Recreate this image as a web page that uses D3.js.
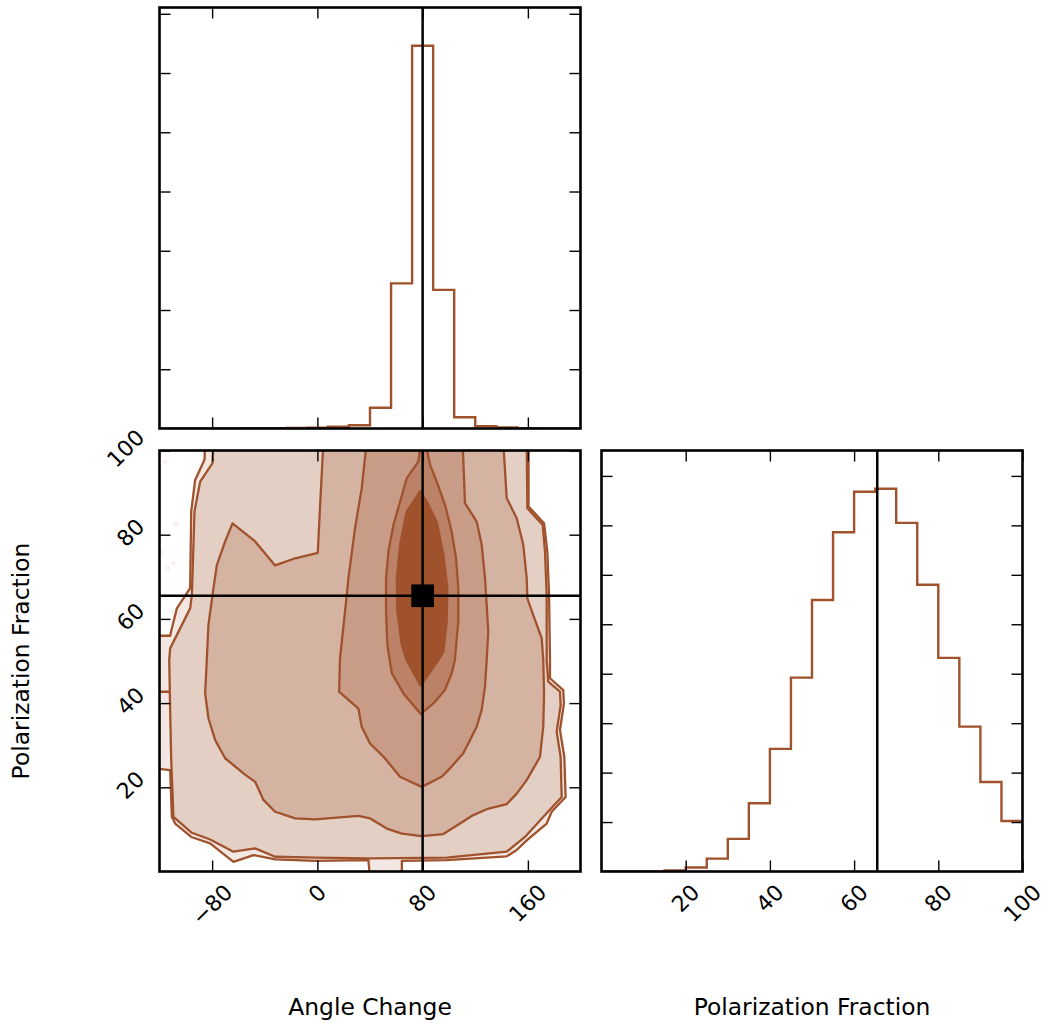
<!DOCTYPE html>
<html>
<head>
<meta charset="utf-8">
<script src="https://cdn.jsdelivr.net/npm/d3@7"></script>
<style>
  body { margin: 0; background: #fff; }
  svg { display: block; font-family: "DejaVu Sans", sans-serif; }
</style>
</head>
<body>
<div id="chart"></div>
<script>
// Angle Change histogram: bin edges and counts
const angleEdges = [-120, -104, -88, -72, -56, -40, -24, -8, 8, 24, 40, 56, 72, 88, 104, 120, 136, 152, 168, 184, 200];
const angleCounts = [0, 0, 0, 0, 3, 6, 10, 15, 30, 55, 350, 2450, 6460, 2340, 190, 40, 18, 6, 2, 0];

// Polarization Fraction histogram: bin edges and counts
const polEdges = [0, 5, 10, 15, 20, 25, 30, 35, 40, 45, 50, 55, 60, 65, 70, 75, 80, 85, 90, 95, 100];
const polCounts = [0, 0, 0, 20, 80, 260, 660, 1380, 2480, 3920, 5490, 6860, 7680, 7740, 7050, 5800, 4320, 2930, 1810, 1020];

// true values
const truthAngle = 80;
const truthPol = 65.5;

// tick values
const angleTicks = [-80, 0, 80, 160];
const polTicks = [20, 40, 60, 80, 100];
const angleCountTicks = [1000, 2000, 3000, 4000, 5000, 6000, 7000];
const polCountTicks = [1000, 2000, 3000, 4000, 5000, 6000, 7000, 8000];

// 2D density contours, outermost first, vertices as [angle, polarization]
const contour1 = [[-85.3, 102], [-85.8, 97.8], [-92.9, 93.0], [-95.9, 85.5], [-96.7, 67.3], [-106.8, 62.5], [-110.6, 57.8],
  [-111.9, 56.0], [-124, 56.0], [-124, 24.5], [-111.9, 24.1], [-110.6, 13.0], [-108.1, 11.4], [-95.9, 8.2], [-81.5, 6.7],
  [-63.8, 2.3], [-48.6, 3.9], [-32.1, 2.9], [-1.7, 2.5], [38.8, 2.7], [40.1, -2], [64.2, -2], [64.2, 2.5], [98.3, 2.7],
  [143.9, 3.6], [151.5, 5.1], [159.1, 7.4], [174.3, 11.4], [178.1, 14.2], [188.7, 17.7], [187.7, 27.2], [184.4, 33.6],
  [187.4, 39.9], [186.9, 43.1], [176.8, 45.9], [176.8, 50.2], [176.1, 65.7], [174.8, 76.0], [172.3, 82.7], [160.5, 86.7],
  [160.5, 102]];
const contour2 = [[-79, 102], [-79.7, 97.0], [-89.1, 92.6], [-93.4, 85.5], [-95.4, 65.7], [-96.7, 62.5], [-111.9, 53.0],
  [-112.6, 50.2], [-111.9, 38.4], [-111.1, 26.5], [-110.1, 18.5], [-109.4, 13.0], [-95.4, 9.2], [-81.5, 7.6], [-63.8, 4.7],
  [-47.3, 5.5], [-32.1, 3.5], [-1.7, 3.3], [40.1, 3.1], [98.3, 3.3], [143.9, 4.7], [157.8, 8.2], [173, 13.4], [185.7, 17.7],
  [184.9, 27.2], [181.9, 33.2], [184.9, 39.5], [184.4, 42.7], [175.5, 45.1], [174.3, 50.2], [174.3, 65.7], [173, 76.0],
  [171.3, 82.3], [159.6, 86.3], [159.1, 102]];
const contour3 = [[4.6, 102], [2.1, 87.1], [0.3, 75.7], [-16.9, 74.4], [-32.1, 72.7], [-47.3, 78.4], [-64.5, 82.7],
  [-70.1, 78.4], [-76.4, 72.8], [-79, 67.3], [-82.8, 58.6], [-84, 50.6], [-85.3, 42.3], [-82.8, 36.4], [-77.7, 31.2],
  [-70.1, 26.9], [-56.2, 23.3], [-47.3, 21.3], [-41, 17], [-32.1, 14.2], [-16.9, 12.6], [-1.7, 12.4], [31.2, 13.2],
  [40.1, 12.6], [52.8, 10.2], [64.2, 9], [79.3, 8.4], [95.8, 8.9], [108.4, 11.4], [118.5, 13.4], [128.7, 14.8],
  [143.9, 16], [151.5, 18.5], [159.1, 21.7], [169.2, 27.2], [171.7, 34.4], [172.3, 42.3], [171.7, 50.2], [170.5, 55.4],
  [164.1, 60.9], [159.6, 64.9], [159.1, 69.7], [156.5, 77.6], [151.5, 83.9], [143.9, 88.7], [141.3, 102]];
const contour4 = [[37.5, 102], [33.7, 91], [28.6, 81.5], [23.6, 69.7], [21, 61.7], [17.2, 50.6], [16.5, 42.7],
  [31.2, 38.7], [33.7, 34.4], [40, 30.4], [50.2, 27.3], [62.8, 22.5], [79.3, 20.1], [94.5, 22.5], [100.8, 24.5],
  [110.9, 28.1], [116, 31.2], [121.1, 34.4], [124.9, 38.4], [127.4, 43.9], [128.7, 50.2], [129.9, 57], [128.7, 63.3],
  [127.4, 69.7], [124.9, 77.6], [121.1, 83.1], [112.2, 87.5], [110.4, 102]];
const contour5 = [[78.6, 102], [76.8, 97.4], [67.9, 93.4], [62.9, 87.9], [57.8, 82.3], [54, 76], [52.2, 69.7],
  [52.2, 61.7], [53.2, 53.8], [56.6, 47.1], [65.4, 42.3], [78.6, 37.4], [89.4, 40.3], [97, 43.1], [102.1, 47.1],
  [104.5, 50.2], [107.1, 59.3], [107.1, 67.3], [105.4, 74.4], [102.1, 80.7], [97, 87.1], [90.7, 92.6], [85.7, 96.6],
  [81.9, 102]];
const contour6 = [[78.1, 90.3], [67.9, 85.5], [62.9, 77.6], [60.4, 69.7], [60.8, 61.7], [64.2, 53.8], [67.9, 50.2],
  [78.1, 44.3], [80.6, 45.1], [92, 50.2], [95.8, 52.2], [98.3, 59.3], [98.8, 67.3], [95.8, 75.2], [90.7, 83.1],
  [83.1, 87.9]];
const contours = [contour1, contour2, contour3, contour4, contour5, contour6];
const levelShades = [0.14, 0.28, 0.44, 0.57, 0.72, 1.0];

// short contour piece on the left edge
const edgeSegment = [[-124, 42.7], [-112.4, 42.7]];

// faint samples outside the outermost contour
const outliers = [[-115.7, 97.4], [-107.5, 82.7], [-118.2, 76], [-113.6, 72], [-109.4, 73.2], [-110.6, 61.7]];

const W = 1045, H = 1023;
const size = 421;
const col0 = 159.5, col1 = 601.5, row0 = 7.5, row1 = 450.5;
const tickLen = 11;
const color = "#a0522d";

const svg = d3.select("#chart").append("svg")
    .attr("width", W)
    .attr("height", H);
const defs = svg.append("defs");

// scales
const x = d3.scaleLinear().domain([-120, 200]).range([col0, col0 + size]);
const xp = d3.scaleLinear().domain([0, 100]).range([col1, col1 + size]);
const y = d3.scaleLinear().domain([0, 100]).range([row1 + size, row1]);
const yTop = d3.scaleLinear().domain([0, d3.max(angleCounts) * 1.1]).range([row0 + size, row0]);
const yRight = d3.scaleLinear().domain([0, d3.max(polCounts) * 1.1]).range([row1 + size, row1]);

function clipFor(id, xs, ys) {
    defs.append("clipPath").attr("id", id).append("rect")
        .attr("x", xs.range()[0])
        .attr("y", ys.range()[1])
        .attr("width", xs.range()[1] - xs.range()[0])
        .attr("height", ys.range()[0] - ys.range()[1]);
    return `url(#${id})`;
}

function drawHist(xs, ys, edges, counts, clip) {
    const pts = [[edges[0], 0]]
        .concat(edges.map((e, i) => [e, counts[Math.min(i, counts.length - 1)]]))
        .concat([[edges[edges.length - 1], 0]]);
    const line = d3.line()
        .x(d => xs(d[0]))
        .y(d => ys(d[1]))
        .curve(d3.curveStepAfter);
    svg.append("path")
        .attr("d", line(pts))
        .attr("clip-path", clip)
        .attr("fill", "none")
        .attr("stroke", color)
        .attr("stroke-width", 2.4);
}

function vLine(xs, ys, v, clip) {
    svg.append("line")
        .attr("x1", xs(v)).attr("x2", xs(v))
        .attr("y1", ys.range()[0]).attr("y2", ys.range()[1])
        .attr("clip-path", clip)
        .attr("stroke", "#000")
        .attr("stroke-width", 2.5);
}

function hLine(xs, ys, v, clip) {
    svg.append("line")
        .attr("x1", xs.range()[0]).attr("x2", xs.range()[1])
        .attr("y1", ys(v)).attr("y2", ys(v))
        .attr("clip-path", clip)
        .attr("stroke", "#000")
        .attr("stroke-width", 2.5);
}

// inward ticks on all four sides plus the frame
function frame(xs, ys, xv, yv) {
    const [x0, x1] = xs.range();
    const [y0, y1] = ys.range();
    const sides = [
        [d3.axisBottom(xs).tickValues(xv), `translate(0,${y0})`],
        [d3.axisTop(xs).tickValues(xv), `translate(0,${y1})`],
        [d3.axisLeft(ys).tickValues(yv), `translate(${x0},0)`],
        [d3.axisRight(ys).tickValues(yv), `translate(${x1},0)`]
    ];
    sides.forEach(([axis, tr]) => {
        const g = svg.append("g")
            .attr("transform", tr)
            .call(axis.tickSize(-tickLen).tickFormat(""));
        g.select(".domain").remove();
        g.selectAll(".tick line").attr("stroke", "#000").attr("stroke-width", 1.4);
    });
    svg.append("rect")
        .attr("x", x0).attr("y", y1)
        .attr("width", x1 - x0).attr("height", y0 - y1)
        .attr("fill", "none")
        .attr("stroke", "#000")
        .attr("stroke-width", 2.6);
}

const fmt = d => d < 0 ? "\u2212" + Math.abs(d) : String(d);

function xLabels(xs, values, top) {
    values.forEach(v => {
        const t = svg.append("text")
            .text(fmt(v))
            .attr("font-size", 22)
            .attr("text-anchor", "middle")
            .attr("dominant-baseline", "central");
        const w = t.node().getComputedTextLength();
        t.attr("transform", `translate(${xs(v)},${top + (w + 25.6) * 0.3535}) rotate(-45)`);
    });
}

function yLabels(ys, values, right) {
    values.forEach(v => {
        const t = svg.append("text")
            .text(fmt(v))
            .attr("font-size", 22)
            .attr("text-anchor", "middle")
            .attr("dominant-baseline", "central");
        const w = t.node().getComputedTextLength();
        t.attr("transform", `translate(${right - (w + 25.6) * 0.3535},${ys(v) - 2}) rotate(-45)`);
    });
}

// top: Angle Change histogram
const clipTop = clipFor("clip-top", x, yTop);
drawHist(x, yTop, angleEdges, angleCounts, clipTop);
vLine(x, yTop, truthAngle, clipTop);
frame(x, yTop, angleTicks, angleCountTicks);

// bottom left: joint density
const clipMid = clipFor("clip-mid", x, y);
const contourLine = d3.line().x(d => x(d[0])).y(d => y(d[1]));
const shade = d3.interpolateRgb("#ffffff", color);

svg.append("g")
    .attr("clip-path", clipMid)
    .selectAll("circle")
    .data(outliers)
    .join("circle")
    .attr("cx", d => x(d[0]))
    .attr("cy", d => y(d[1]))
    .attr("r", 2.5)
    .attr("fill", color)
    .attr("fill-opacity", 0.08);

svg.append("g")
    .attr("clip-path", clipMid)
    .selectAll("path")
    .data(contours)
    .join("path")
    .attr("d", d => contourLine(d) + "Z")
    .attr("fill", (d, i) => shade(levelShades[i]))
    .attr("stroke", color)
    .attr("stroke-width", 2.3)
    .attr("stroke-linejoin", "round");

svg.append("path")
    .attr("d", contourLine(edgeSegment))
    .attr("clip-path", clipMid)
    .attr("fill", "none")
    .attr("stroke", color)
    .attr("stroke-width", 2.3);

vLine(x, y, truthAngle, clipMid);
hLine(x, y, truthPol, clipMid);
svg.append("path")
    .attr("d", d3.symbol(d3.symbolSquare, 515)())
    .attr("transform", `translate(${x(truthAngle)},${y(truthPol)})`)
    .attr("fill", "#000");
frame(x, y, angleTicks, polTicks);
xLabels(x, angleTicks, 879.4);
yLabels(y, polTicks, 149.6);

// bottom right: Polarization Fraction histogram
const clipRight = clipFor("clip-right", xp, yRight);
drawHist(xp, yRight, polEdges, polCounts, clipRight);
vLine(xp, yRight, truthPol, clipRight);
frame(xp, yRight, polTicks, polCountTicks);
xLabels(xp, polTicks, 879.4);

// axis titles
svg.append("text")
    .text("Angle Change")
    .attr("x", col0 + size / 2)
    .attr("y", 1015)
    .attr("font-size", 23.4)
    .attr("text-anchor", "middle");
svg.append("text")
    .text("Polarization Fraction")
    .attr("x", col1 + size / 2)
    .attr("y", 1015)
    .attr("font-size", 23.4)
    .attr("text-anchor", "middle");
svg.append("text")
    .text("Polarization Fraction")
    .attr("transform", `translate(28.8,${row1 + size / 2}) rotate(-90)`)
    .attr("font-size", 23.4)
    .attr("text-anchor", "middle");
</script>
</body>
</html>
